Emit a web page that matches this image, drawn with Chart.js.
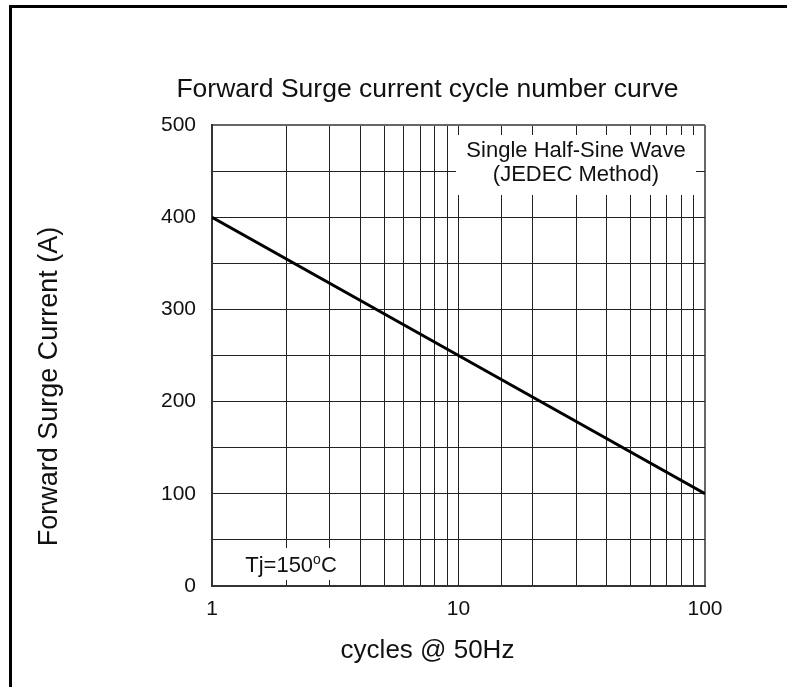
<!DOCTYPE html>
<html>
<head>
<meta charset="utf-8">
<title>Forward Surge current cycle number curve</title>
<script src="https://cdn.jsdelivr.net/npm/chart.js@4.4.1/dist/chart.umd.min.js"></script>
<style>
  body { margin: 0; background: #fff; }
  #wrap { position: relative; width: 787px; height: 687px; overflow: hidden; }
  #frame {
    position: absolute; left: 9px; top: 5px; width: 900px; height: 900px;
    border-left: 3px solid #000; border-top: 3px solid #000; pointer-events: none;
  }
</style>
</head>
<body>
<div id="wrap">
  <canvas id="surge-chart" width="787" height="687"></canvas>
  <div id="frame"></div>
</div>
<script>
// values
const cycles = [1, 10, 100];
const surgeCurrent = [400, 250, 100];
const xTickLabels = [1, 10, 100];
const yTickLabels = [0, 100, 200, 300, 400, 500];

const FONT = "'Liberation Sans', Arial, sans-serif";
const INK = '#111';

const notes = {
  id: 'notes',
  beforeDatasetsDraw(chart) {
    const { ctx, chartArea: a } = chart;
    ctx.save();

    // white boxes over the grid
    ctx.fillStyle = '#fff';
    ctx.fillRect(a.left + 244, a.top + 10, 240, 60);
    ctx.fillRect(a.left + 26, a.bottom - 38, 112, 32);

    ctx.fillStyle = INK;
    ctx.textAlign = 'center';
    ctx.textBaseline = 'alphabetic';
    ctx.font = '22px ' + FONT;
    ctx.fillText('Single Half-Sine Wave', a.left + 364, a.top + 32);
    ctx.fillText('(JEDEC Method)', a.left + 364, a.top + 56);

    // Tj=150ºC with a raised o
    const base = a.bottom - 14;
    ctx.textAlign = 'left';
    const p1 = 'Tj=150', p3 = 'C';
    ctx.font = '22px ' + FONT;
    const w1 = ctx.measureText(p1).width;
    const w3 = ctx.measureText(p3).width;
    ctx.font = '14px ' + FONT;
    const w2 = ctx.measureText('o').width;
    let x = a.left + 79 - (w1 + w2 + w3) / 2;
    ctx.font = '22px ' + FONT;
    ctx.fillText(p1, x, base);
    x += w1;
    ctx.font = '14px ' + FONT;
    ctx.fillText('o', x, base - 8);
    x += w2;
    ctx.font = '22px ' + FONT;
    ctx.fillText(p3, x, base);
    ctx.restore();
  },
  afterDraw(chart) {
    const { ctx } = chart;
    ctx.save();
    ctx.fillStyle = INK;
    ctx.textAlign = 'center';
    ctx.textBaseline = 'alphabetic';
    ctx.font = '26.5px ' + FONT;
    ctx.fillText('Forward Surge current cycle number curve', 427.5, 97);
    ctx.font = '26px ' + FONT;
    ctx.fillText('cycles @ 50Hz', 427.5, 658);
    ctx.translate(56.5, 386.5);
    ctx.rotate(-Math.PI / 2);
    ctx.font = '27px ' + FONT;
    ctx.fillText('Forward Surge Current (A)', 0, 0);
    ctx.restore();
  }
};

new Chart(document.getElementById('surge-chart').getContext('2d'), {
  type: 'line',
  data: {
    datasets: [{
      label: 'Forward Surge Current',
      data: cycles.map((c, i) => ({ x: c, y: surgeCurrent[i] })),
      borderColor: '#000',
      borderWidth: 3,
      pointRadius: 0,
      tension: 0,
      fill: false
    }]
  },
  options: {
    responsive: false,
    animation: false,
    devicePixelRatio: 1,
    layout: { padding: { left: 0, right: 82, top: 125, bottom: 0 } },
    plugins: {
      legend: { display: false },
      title: { display: false },
      tooltip: { enabled: false }
    },
    scales: {
      x: {
        type: 'logarithmic',
        min: 1,
        max: 100,
        afterFit: (s) => { s.height = 101; },
        border: { color: '#333', width: 2 },
        grid: {
          drawTicks: false,
          color: (c) => (c.tick && c.tick.value === 100 ? '#666' : '#222'),
          lineWidth: (c) => (c.tick && c.tick.value === 100 ? 2 : 1)
        },
        ticks: {
          autoSkip: false,
          maxRotation: 0,
          padding: 11,
          color: INK,
          font: { family: FONT, size: 21 },
          callback: (v) => (xTickLabels.includes(v) ? String(v) : '')
        }
      },
      y: {
        min: 0,
        max: 500,
        afterFit: (s) => { s.width = 212; },
        border: { color: '#333', width: 2 },
        grid: {
          drawTicks: false,
          color: (c) => (c.tick && c.tick.value === 500 ? '#666' : '#222'),
          lineWidth: (c) => (c.tick && c.tick.value === 500 ? 2 : 1)
        },
        ticks: {
          stepSize: 50,
          padding: 16,
          color: INK,
          font: { family: FONT, size: 21 },
          callback: (v) => (yTickLabels.includes(v) ? String(v) : '')
        }
      }
    }
  },
  plugins: [notes]
});
</script>
</body>
</html>
